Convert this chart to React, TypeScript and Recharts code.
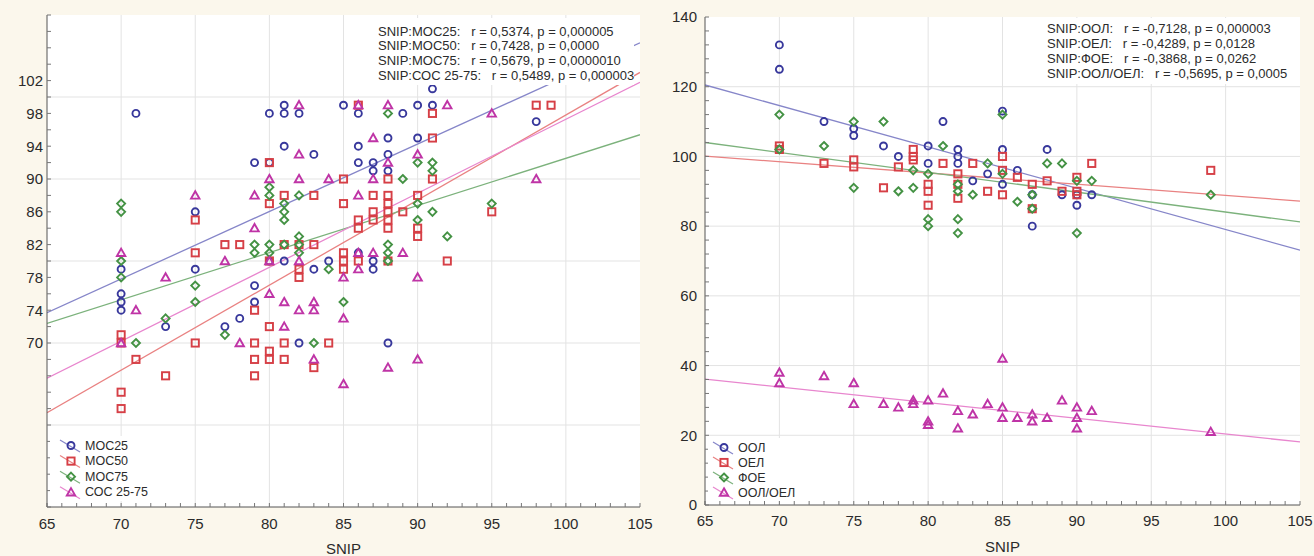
import React from 'react'
import { ScatterChart, Scatter, XAxis, YAxis, CartesianGrid, ReferenceLine } from 'recharts'

type Pt = [number, number]

// axis labels
const snipTicks = [65, 70, 75, 80, 85, 90, 95, 100, 105]
const leftYTicks = [70, 74, 78, 82, 86, 90, 94, 98, 102]
const rightYTicks = [0, 20, 40, 60, 80, 100, 120, 140]
const gridX = [70, 75, 80, 85, 90, 95, 100]
const leftGridY = [60, 70, 80, 90, 100]
const rightGridY = [20, 40, 60, 80, 100, 120]

// left panel: SNIP vs МОС25 / МОС50 / МОС75 / СОС 25-75
const moc25: Pt[] = [
  [70, 79], [70, 76], [70, 75], [70, 74], [71, 98], [73, 72], [75, 86], [75, 79], [77, 72], [78, 73],
  [79, 92], [79, 77], [79, 75], [80, 98], [80, 92], [80, 80], [81, 99], [81, 98], [81, 94], [81, 80],
  [82, 98], [82, 70], [83, 93], [83, 79], [84, 80], [85, 99], [86, 98], [86, 94], [86, 92], [86, 81],
  [87, 92], [87, 91], [87, 80], [87, 79], [88, 95], [88, 93], [88, 91], [88, 70], [89, 98], [90, 99],
  [90, 95], [91, 101], [91, 99], [98, 97],
]
const moc50: Pt[] = [
  [70, 71], [70, 70], [70, 64], [70, 62], [71, 68], [73, 66], [75, 85], [75, 81], [75, 70], [77, 82],
  [78, 82], [79, 74], [79, 70], [79, 68], [79, 66], [80, 92], [80, 87], [80, 80], [80, 72], [80, 69],
  [80, 68], [81, 88], [81, 82], [81, 70], [81, 68], [82, 82], [82, 79], [82, 78], [83, 88], [83, 82],
  [83, 67], [84, 70], [85, 90], [85, 87], [85, 81], [85, 80], [85, 79], [86, 99], [86, 85], [86, 84],
  [86, 80], [87, 88], [87, 86], [87, 85], [88, 90], [88, 88], [88, 87], [88, 86], [88, 85], [88, 84],
  [88, 80], [89, 86], [90, 88], [90, 84], [90, 83], [91, 98], [91, 95], [91, 90], [92, 80], [95, 86],
  [98, 99], [99, 99],
]
const moc75: Pt[] = [
  [70, 87], [70, 86], [70, 80], [70, 78], [71, 70], [73, 73], [75, 77], [75, 75], [77, 71], [79, 82],
  [79, 81], [80, 89], [80, 88], [80, 82], [80, 81], [81, 87], [81, 86], [81, 85], [81, 82], [82, 88],
  [82, 83], [82, 82], [82, 81], [83, 70], [84, 79], [85, 75], [88, 98], [88, 82], [88, 81], [88, 80],
  [89, 90], [90, 92], [90, 87], [90, 85], [91, 92], [91, 91], [91, 86], [92, 83], [95, 87],
]
const coc2575: Pt[] = [
  [70, 81], [70, 70], [71, 74], [73, 78], [75, 88], [77, 80], [78, 70], [79, 88], [79, 84], [80, 90],
  [80, 80], [80, 76], [81, 75], [81, 72], [82, 99], [82, 93], [82, 90], [82, 80], [82, 74], [83, 75],
  [83, 74], [83, 68], [84, 90], [85, 78], [85, 73], [85, 65], [86, 99], [86, 88], [86, 81], [86, 79],
  [87, 95], [87, 90], [87, 81], [88, 99], [88, 92], [88, 67], [89, 81], [90, 93], [90, 78], [90, 68],
  [92, 99], [95, 98], [98, 90],
]
const moc25Fit: Pt[] = [[65, 73.7], [105, 106.6]]
const moc50Fit: Pt[] = [[65, 61.5], [105, 103]]
const moc75Fit: Pt[] = [[65, 72.4], [105, 95.4]]
const cocFit: Pt[] = [[65, 65.7], [105, 101.8]]

// right panel: SNIP vs ООЛ / ОЕЛ / ФОЕ / ООЛ/ОЕЛ
const ool: Pt[] = [
  [70, 132], [70, 125], [73, 110], [75, 108], [75, 106], [77, 103], [78, 100], [80, 103], [80, 98],
  [81, 110], [82, 102], [82, 100], [82, 98], [83, 93], [84, 95], [85, 113], [85, 102], [85, 92],
  [86, 96], [87, 89], [87, 80], [88, 102], [89, 89], [90, 89], [90, 86], [91, 89],
]
const oel: Pt[] = [
  [70, 103], [70, 102], [73, 98], [75, 99], [75, 97], [77, 91], [78, 97], [79, 102], [79, 100],
  [79, 99], [80, 92], [80, 90], [80, 86], [81, 98], [82, 95], [82, 92], [82, 88], [83, 98], [84, 90],
  [85, 100], [85, 96], [85, 89], [86, 94], [87, 92], [87, 85], [88, 93], [89, 90], [90, 94], [90, 90],
  [90, 89], [91, 98], [99, 96],
]
const foe: Pt[] = [
  [70, 112], [70, 102], [73, 103], [75, 110], [75, 91], [77, 110], [78, 90], [79, 96], [79, 91],
  [80, 95], [80, 82], [80, 80], [81, 103], [82, 92], [82, 90], [82, 82], [82, 78], [83, 89], [84, 98],
  [85, 112], [85, 95], [86, 87], [87, 89], [87, 85], [88, 98], [89, 98], [90, 93], [90, 78], [91, 93],
  [99, 89],
]
const oolOel: Pt[] = [
  [70, 38], [70, 35], [73, 37], [75, 35], [75, 29], [77, 29], [78, 28], [79, 30], [79, 29], [80, 30],
  [80, 24], [80, 23], [81, 32], [82, 27], [82, 22], [83, 26], [84, 29], [85, 42], [85, 28], [85, 25],
  [86, 25], [87, 26], [87, 24], [88, 25], [89, 30], [90, 28], [90, 25], [90, 22], [91, 27], [99, 21],
]
const oolFit: Pt[] = [[65, 120.5], [105, 73.1]]
const oelFit: Pt[] = [[65, 100.1], [105, 87.2]]
const foeFit: Pt[] = [[65, 104], [105, 81.2]]
const ratioFit: Pt[] = [[65, 36.1], [105, 18.1]]

const leftStats = [
  'SNIP:МОС25:   r = 0,5374, p = 0,000005',
  'SNIP:МОС50:   r = 0,7428, p = 0,0000',
  'SNIP:МОС75:   r = 0,5679, p = 0,0000010',
  'SNIP:СОС 25-75:   r = 0,5489, p = 0,000003',
]
const rightStats = [
  'SNIP:ООЛ:   r = -0,7128, p = 0,000003',
  'SNIP:ОЕЛ:   r = -0,4289, p = 0,0128',
  'SNIP:ФОЕ:   r = -0,3868, p = 0,0262',
  'SNIP:ООЛ/ОЕЛ:   r = -0,5695, p = 0,0005',
]

const FONT = '"Liberation Sans", Arial, sans-serif'
const BLUE = { mark: '#38389c', line: '#8686c9' }
const RED = { mark: '#d63f46', line: '#e98282' }
const GREEN = { mark: '#449244', line: '#7cb27c' }
const PINK = { mark: '#bf34a6', line: '#e886ce' }

const range = (a: number, b: number, s: number) => Array.from({ length: Math.round((b - a) / s) + 1 }, (_, i) => a + i * s)
const toData = (pts: Pt[]) => pts.map(([x, y]) => ({ x, y }))

type Kind = 'circle' | 'square' | 'diamond' | 'triangle'

function Marker({ kind, cx, cy, color }: { kind: Kind; cx: number; cy: number; color: string }) {
  const common = { fill: 'none', stroke: color, strokeWidth: 1.9 }
  if (kind === 'circle') return <circle cx={cx} cy={cy} r={3.5} {...common} />
  if (kind === 'square') return <rect x={cx - 3.6} y={cy - 3.6} width={7.2} height={7.2} {...common} />
  if (kind === 'diamond') return <polygon points={`${cx},${cy - 4} ${cx + 4},${cy} ${cx},${cy + 4} ${cx - 4},${cy}`} {...common} />
  return <polygon points={`${cx},${cy - 4.2} ${cx + 4.2},${cy + 3.2} ${cx - 4.2},${cy + 3.2}`} {...common} />
}

const shapeOf = (kind: Kind, color: string) => (props: any) => <Marker kind={kind} cx={props.cx} cy={props.cy} color={color} />

type Series = { name: string; pts: Pt[]; fit: Pt[]; kind: Kind; color: { mark: string; line: string } }

const leftSeries: Series[] = [
  { name: 'МОС25', pts: moc25, fit: moc25Fit, kind: 'circle', color: BLUE },
  { name: 'МОС50', pts: moc50, fit: moc50Fit, kind: 'square', color: RED },
  { name: 'МОС75', pts: moc75, fit: moc75Fit, kind: 'diamond', color: GREEN },
  { name: 'СОС 25-75', pts: coc2575, fit: cocFit, kind: 'triangle', color: PINK },
]
const rightSeries: Series[] = [
  { name: 'ООЛ', pts: ool, fit: oolFit, kind: 'circle', color: BLUE },
  { name: 'ОЕЛ', pts: oel, fit: oelFit, kind: 'square', color: RED },
  { name: 'ФОЕ', pts: foe, fit: foeFit, kind: 'diamond', color: GREEN },
  { name: 'ООЛ/ОЕЛ', pts: oolOel, fit: ratioFit, kind: 'triangle', color: PINK },
]

type PanelProps = {
  left: number
  width: number
  margin: { top: number; right: number; bottom: number; left: number }
  yDomain: [number, number]
  yMinor: number[]
  yLabels: number[]
  gridY: number[]
  yWidth: number
  yTickMargin: number
  xTickMargin: number
  xHeight: number
  labelOffset: number
  series: Series[]
}

function Panel(p: PanelProps) {
  const xMinor = range(65, 105, 1)
  const tickStyle = { fill: '#2b2b2b', fontSize: 15, fontFamily: FONT }
  return (
    <div style={{ position: 'absolute', left: p.left, top: 0 }}>
      <ScatterChart width={p.width} height={556} margin={p.margin}>
        <CartesianGrid fill="#ffffff" stroke="#e3e3e3" verticalValues={gridX} horizontalValues={p.gridY} />
        <XAxis dataKey="x" type="number" domain={[65, 105]} ticks={xMinor} interval={0} allowDataOverflow
          tickFormatter={(v: number) => (snipTicks.includes(v) ? String(v) : '')}
          tickSize={-4} tickMargin={p.xTickMargin} height={p.xHeight}
          axisLine={{ stroke: '#555' }} tickLine={{ stroke: '#777' }} tick={tickStyle}
          label={{ value: 'SNIP', position: 'insideBottom', offset: p.labelOffset, fill: '#2b2b2b', fontSize: 15, fontFamily: FONT }} />
        <YAxis dataKey="y" type="number" domain={p.yDomain} ticks={p.yMinor} interval={0} allowDataOverflow
          tickFormatter={(v: number) => (p.yLabels.includes(v) ? String(v) : '')}
          tickSize={-4} tickMargin={p.yTickMargin} width={p.yWidth}
          axisLine={{ stroke: '#555' }} tickLine={{ stroke: '#777' }} tick={tickStyle} />
        <XAxis xAxisId="top" orientation="top" type="number" domain={[65, 105]} ticks={xMinor} interval={0}
          height={0} mirror tickSize={4} tickFormatter={() => ''} axisLine={{ stroke: '#888' }} tickLine={{ stroke: '#999' }} />
        <YAxis yAxisId="right" orientation="right" type="number" domain={p.yDomain} ticks={p.yMinor} interval={0}
          width={0} mirror tickSize={4} tickFormatter={() => ''} axisLine={{ stroke: '#888' }} tickLine={{ stroke: '#999' }} />
        {p.series.map(s => (
          <ReferenceLine key={s.name + '-fit'} ifOverflow="hidden" stroke={s.color.line} strokeWidth={1.3}
            segment={[{ x: s.fit[0][0], y: s.fit[0][1] }, { x: s.fit[1][0], y: s.fit[1][1] }]} />
        ))}
        {p.series.map(s => (
          <Scatter key={s.name} name={s.name} data={toData(s.pts)} shape={shapeOf(s.kind, s.color.mark)} isAnimationActive={false} />
        ))}
      </ScatterChart>
    </div>
  )
}

function LegendBox({ series, left, top, width, rowTop, rowGap, iconX, textX }: {
  series: Series[]; left: number; top: number; width: number; rowTop: number; rowGap: number; iconX: number; textX: number
}) {
  const h = rowTop * 2 + rowGap * (series.length - 1)
  return (
    <div style={{ position: 'absolute', left, top, width, height: h, background: '#fff' }}>
      <svg width={width} height={h} style={{ display: 'block' }}>
        {series.map((s, i) => {
          const cy = rowTop + i * rowGap
          return (
            <g key={s.name}>
              <line x1={iconX} y1={cy - 5} x2={iconX + 20} y2={cy + 7} stroke={s.color.line} strokeWidth={1.2} />
              <Marker kind={s.kind} cx={iconX + 11} cy={cy + 0.5} color={s.color.mark} />
              <text x={textX} y={cy + 4.5} fontSize={12.5} fill="#2b2b2b" fontFamily={FONT}>{s.name}</text>
            </g>
          )
        })}
      </svg>
    </div>
  )
}

function StatsBox({ lines, left, top, width, padTop, lineHeight }: {
  lines: string[]; left: number; top: number; width: number; padTop: number; lineHeight: number
}) {
  return (
    <div style={{
      position: 'absolute', left, top, width, paddingTop: padTop, paddingBottom: 2, paddingLeft: 4,
      background: '#fff', fontFamily: FONT, fontSize: 13, lineHeight: `${lineHeight}px`, color: '#2b2b2b', whiteSpace: 'pre',
    }}>
      {lines.map(l => <div key={l}>{l}</div>)}
    </div>
  )
}

export default function App() {
  return (
    <div style={{ position: 'absolute', left: 0, top: 0, width: 1314, height: 556, background: '#fbf7ec', overflow: 'hidden' }}>
      <Panel left={0} width={655} margin={{ top: 15, right: 15, bottom: 0, left: 7 }}
        yDomain={[50, 110]} yMinor={range(50, 110, 2)} yLabels={leftYTicks} gridY={leftGridY}
        yWidth={40} yTickMargin={8} xTickMargin={15} xHeight={49} labelOffset={2} series={leftSeries} />
      <Panel left={655} width={659} margin={{ top: 17, right: 14, bottom: 0, left: 8 }}
        yDomain={[0, 140]} yMinor={range(0, 140, 4)} yLabels={rightYTicks} gridY={rightGridY}
        yWidth={42} yTickMargin={12} xTickMargin={14} xHeight={51} labelOffset={4} series={rightSeries} />
      <StatsBox lines={leftStats} left={374} top={18} width={256} padTop={6.6} lineHeight={14.7} />
      <StatsBox lines={rightStats} left={1043} top={18} width={252} padTop={2.5} lineHeight={15.3} />
      <LegendBox series={leftSeries} left={50} top={436} width={100} rowTop={9} rowGap={15.6} iconX={10} textX={35} />
      <LegendBox series={rightSeries} left={708} top={438} width={92} rowTop={9} rowGap={15} iconX={5} textX={30} />
    </div>
  )
}
